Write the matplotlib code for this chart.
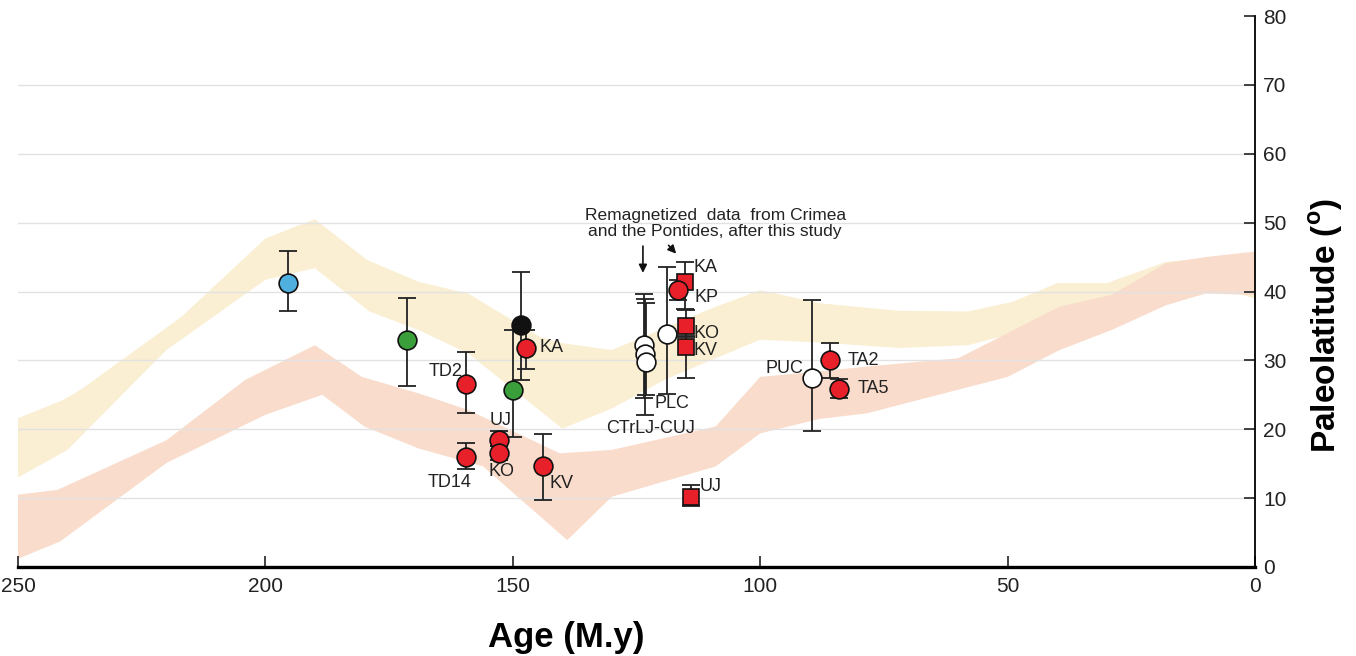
import numpy as np
import matplotlib
matplotlib.use("Agg")
import matplotlib.pyplot as plt

plt.rcParams['font.family'] = ['Liberation Sans', 'DejaVu Sans']

# APWP-derived bands: upper edge and lower edge, each with its own ages
yel_top_age = [250, 241, 237, 217, 200, 190, 179.5, 169, 159, 144.5, 140, 130,
               120, 110, 100, 88, 72, 58, 49, 40, 30, 18, 8, 0]
yel_top_lat = [21.6, 24.2, 25.9, 36.3, 47.7, 50.5, 44.6, 41.4, 39.7, 33.4, 32.5, 31.5,
               34.5, 37.5, 40.2, 38.3, 37.2, 37.1, 38.5, 41.2, 41.2, 44.3, 45.0, 45.5]
yel_bot_age = [250, 240, 220, 200, 190, 179, 169, 159, 140, 130, 119, 100,
               88, 72, 58, 49, 40, 30, 18, 8, 0]
yel_bot_lat = [13.0, 17.0, 31.5, 41.7, 43.4, 37.1, 34.4, 31.0, 20.1, 23.0, 27.3, 33.0,
               32.6, 31.8, 32.2, 33.9, 35.5, 37.5, 39.5, 40.5, 39.0]

red_top_age = [250, 242, 220, 204, 190, 180.5, 169, 159, 140.5, 130, 109, 100,
               88, 78.5, 60, 39.5, 29, 18, 10, 0]
red_top_lat = [10.5, 11.2, 18.4, 27.2, 32.2, 27.6, 25.2, 22.8, 16.5, 17.0, 20.4, 27.6,
               28.4, 29.1, 30.3, 37.8, 39.5, 44.1, 45.0, 45.8]
red_bot_age = [250, 241.5, 220, 200, 188.5, 180, 169, 156, 139, 130, 109, 100,
               88, 78.5, 50, 39.5, 29, 18, 10, 0]
red_bot_lat = [1.2, 3.7, 15.1, 22.1, 25.0, 20.4, 17.2, 14.6, 3.9, 10.2, 14.6, 19.4,
               21.5, 22.3, 27.6, 31.5, 34.4, 38.0, 39.7, 39.5]

# poles: age, latitude, upper and lower error limits
blue_age, blue_lat, blue_hi, blue_lo = [195.4], [41.2], [45.9], [37.1]
black_age, black_lat, black_hi, black_lo = [148.3], [35.1], [42.8], [27.1]
green_age = [171.4, 149.9]
green_lat = [33.0, 25.7]
green_hi = [39.0, 34.4]
green_lo = [26.3, 18.9]

red_names = ['TD2', 'TD14', 'UJ', 'KO', 'KV', 'KA', 'KP', 'TA2', 'TA5']
red_age = [159.5, 159.4, 152.7, 152.7, 143.8, 147.3, 116.7, 85.8, 84.0]
red_lat = [26.5, 16.0, 18.5, 16.5, 14.6, 31.8, 40.2, 30.0, 25.9]
red_hi = [31.2, 18.0, 19.8, 17.5, 19.3, 34.4, 41.7, 32.5, 27.3]
red_lo = [22.4, 14.2, 17.5, 15.5, 9.8, 28.7, 38.8, 27.5, 24.5]

sq_names = ['KA', 'KO', 'KV', 'UJ']
sq_age = [115.2, 115.0, 115.0, 114.0]
sq_lat = [41.4, 35.0, 31.9, 10.2]
sq_hi = [44.3, 37.3, 33.5, 11.9]
sq_lo = [37.5, 33.4, 27.5, 8.8]

white_names = ['CTrLJ-CUJ', 'CTrLJ-CUJ', 'CTrLJ-CUJ', 'PLC', 'PUC']
white_age = [123.5, 123.3, 123.1, 118.9, 89.6]
white_lat = [32.2, 30.9, 29.7, 33.8, 27.5]
white_hi = [39.6, 38.9, 38.3, 43.5, 38.8]
white_lo = [24.6, 22.1, 25.0, 25.1, 19.8]

# label text with anchor (age, lat, ha)
labels = [('TD2', 160.2, 28.4, 'right'), ('TD14', 162.7, 12.2, 'center'),
          ('UJ', 152.4, 21.3, 'center'), ('KO', 152.2, 13.8, 'center'),
          ('KV', 142.5, 12.1, 'left'), ('KA', 144.7, 31.8, 'left'),
          ('PLC', 121.3, 23.7, 'left'), ('CTrLJ-CUJ', 122.1, 20.1, 'center'),
          ('KA', 113.5, 43.5, 'left'), ('KP', 113.2, 39.2, 'left'),
          ('KO', 113.5, 33.9, 'left'), ('KV', 113.5, 31.5, 'left'),
          ('UJ', 112.2, 11.7, 'left'), ('PUC', 91.3, 28.8, 'right'),
          ('TA2', 82.4, 30.0, 'left'), ('TA5', 80.4, 25.9, 'left')]


def draw_band(ax, age_top, lat_top, age_bot, lat_bot, color):
    xs = np.concatenate([age_top, age_bot[::-1]])
    ys = np.concatenate([lat_top, lat_bot[::-1]])
    ax.fill(xs, ys, color=color, lw=0, zorder=0.2)


def draw_poles(ax, age, lat, hi, lo, face, marker='o', ms=13.5):
    age = np.array(age)
    lat = np.array(lat)
    err = [lat - np.array(lo), np.array(hi) - lat]
    ax.errorbar(age, lat, yerr=err, fmt='none', ecolor='#222222',
                elinewidth=1.3, capsize=6.5, capthick=1.3, zorder=3)
    ax.plot(age, lat, ls='none', marker=marker, ms=ms, mfc=face,
            mec='#111111', mew=1.2, zorder=4)


fig = plt.figure(figsize=(13.56, 6.56), dpi=100)
ax = fig.add_axes([18 / 1356, 1 - 567 / 656, 1237 / 1356, 551 / 656])

draw_band(ax, yel_top_age, yel_top_lat, yel_bot_age, yel_bot_lat, '#faefd2')
draw_band(ax, red_top_age, red_top_lat, red_bot_age, red_bot_lat, '#f9dccb')

draw_poles(ax, white_age, white_lat, white_hi, white_lo, 'white')
draw_poles(ax, blue_age, blue_lat, blue_hi, blue_lo, '#4fb0e0')
draw_poles(ax, green_age, green_lat, green_hi, green_lo, '#3a9e3a')
draw_poles(ax, black_age, black_lat, black_hi, black_lo, '#111111')
draw_poles(ax, sq_age, sq_lat, sq_hi, sq_lo, '#e8202a', marker='s', ms=12)
draw_poles(ax, red_age, red_lat, red_hi, red_lo, '#e8202a')

for name, x, y, ha in labels:
    ax.text(x, y, name, ha=ha, va='center', fontsize=13, color='#222222', zorder=5)

ax.text(109.1, 49.9, 'Remagnetized  data  from Crimea\nand the Pontides, after this study',
        ha='center', va='center', fontsize=12.5, linespacing=1.1, color='#222222')
arrow = dict(arrowstyle='-|>', color='#111111', lw=1.2, mutation_scale=12)
ax.annotate('', xy=(123.7, 42.3), xytext=(123.7, 47.0), arrowprops=arrow)
ax.annotate('', xy=(116.6, 45.2), xytext=(118.9, 47.0), arrowprops=arrow)

ax.set_xlim(250, 0)
ax.set_ylim(0, 80)
ax.set_xticks([250, 200, 150, 100, 50, 0])
ax.set_yticks(range(0, 81, 10))
ax.yaxis.tick_right()
ax.tick_params(axis='both', direction='in', length=8, width=1.2, labelsize=15,
               colors='#222222', pad=6)
ax.tick_params(axis='x', pad=7)

ax.set_axisbelow(True)
ax.grid(axis='y', color='#e2e2e2', lw=1)
ax.get_ygridlines()[-1].set_visible(False)

for side in ['left', 'top']:
    ax.spines[side].set_visible(False)
ax.spines['bottom'].set_linewidth(2.4)
ax.spines['right'].set_linewidth(1.3)

fig.text(566 / 1356, 1 - 637 / 656, 'Age (M.y)', ha='center', va='center',
         fontsize=25, fontweight='bold')
fig.text(1326 / 1356, 1 - 325 / 656, r'Paleolatitude ($^\mathregular{o}$)',
         rotation=90, ha='center', va='center', fontsize=24, fontweight='bold')

fig.savefig('out.png', dpi=100)
